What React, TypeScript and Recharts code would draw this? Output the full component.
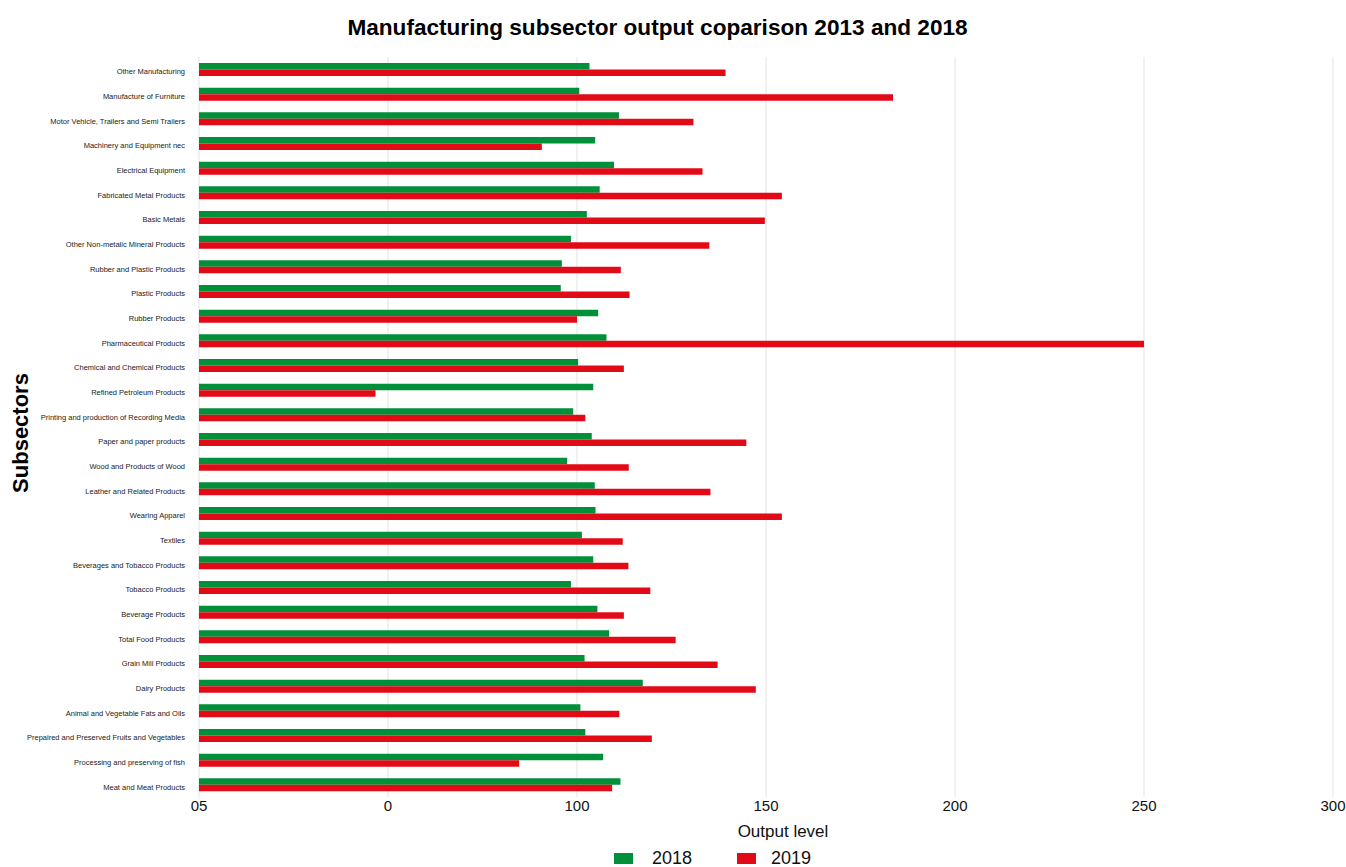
import { BarChart, Bar, XAxis, YAxis, CartesianGrid, Label } from 'recharts';

// Subsectors, listed top to bottom as they appear on the chart
const SUBSECTORS = [
    'Other Manufacturing',
    'Manufacture of Furniture',
    'Motor Vehicle, Trailers and Semi Trailers',
    'Machinery and Equipment nec',
    'Electrical Equipment',
    'Fabricated Metal Products',
    'Basic Metals',
    'Other Non-metalic Mineral Products',
    'Rubber and Plastic Products',
    'Plastic Products',
    'Rubber Products',
    'Pharmaceutical Products',
    'Chemical and Chemical Products',
    'Refined Petroleum Products',
    'Printing and production of Recording Media',
    'Paper and paper products',
    'Wood and Products of Wood',
    'Leather and Related Products',
    'Wearing Apparel',
    'Textiles',
    'Beverages and Tobacco Products',
    'Tobacco Products',
    'Beverage Products',
    'Total Food Products',
    'Grain Mill Products',
    'Dairy Products',
    'Animal and Vegetable Fats and Oils',
    'Prepaired and Preserved Fruits and Vegetables',
    'Processing and preserving of fish',
    'Meat and Meat Products',
];

const OUTPUT_2018 = [
    103.3, 100.6, 111.1, 104.8, 109.8, 106.0, 102.6, 98.4, 96.0, 95.7,
    105.6, 107.8, 100.3, 104.3, 99.0, 103.9, 97.4, 104.7, 104.9, 101.3,
    104.3, 98.4, 105.4, 108.5, 102.0, 117.4, 100.9, 102.2, 106.9, 111.5,
];

const OUTPUT_2019 = [
    139.3, 183.6, 130.8, 90.7, 133.2, 154.2, 149.7, 135.0, 111.6, 113.9,
    100.0, 250.0, 112.4, 46.7, 102.2, 144.8, 113.7, 135.3, 154.2, 112.1,
    113.6, 119.4, 112.4, 126.1, 137.2, 147.3, 111.2, 119.8, 84.7, 109.3,
];

// Tick values and the (odd) labels printed under them
const X_TICKS = [0, 50, 100, 150, 200, 250, 300];
const X_TICK_LABELS = ['05', '0', '100', '150', '200', '250', '300'];

const GREEN = '#00903A';
const RED = '#E30A17';

const chartData = SUBSECTORS.map((name, i) => ({
    name,
    y2018: OUTPUT_2018[i],
    y2019: OUTPUT_2019[i],
}));

// single-line category label (the default tick wraps long names)
const CategoryTick = ({ x, y, payload }: any) => (
    <text
        x={x}
        y={y}
        dy={2.5}
        textAnchor="end"
        dominantBaseline="central"
        fontSize={7.5}
        fill="#222"
    >
        {payload.value}
    </text>
);

export default function App() {
    return (
        <div
            style={{
                position: 'absolute',
                left: 0,
                top: 0,
                width: 1346,
                height: 867,
                background: '#fff',
                fontFamily: '"Liberation Sans", Arial, sans-serif',
            }}
        >
            <div
                style={{
                    position: 'absolute',
                    left: 0,
                    top: 15,
                    width: 1315,
                    textAlign: 'center',
                    fontSize: 22.6,
                    lineHeight: '25px',
                    fontWeight: 'bold',
                    color: '#000',
                }}
            >
                Manufacturing subsector output coparison 2013 and 2018
            </div>

            <BarChart
                width={1346}
                height={867}
                data={chartData}
                layout="vertical"
                margin={{ top: 57, right: 13, bottom: 0, left: 0 }}
                barGap={0}
            >
                <CartesianGrid horizontal={false} stroke="#e3e3e3" />
                <XAxis
                    type="number"
                    domain={[0, 300]}
                    ticks={X_TICKS}
                    tickFormatter={(v: number) => X_TICK_LABELS[X_TICKS.indexOf(v)] ?? String(v)}
                    axisLine={false}
                    tickLine={false}
                    tickSize={0}
                    tickMargin={3}
                    height={70}
                    tick={{ fontSize: 15, fill: '#111' }}
                >
                    <Label
                        value="Output level"
                        position="insideBottom"
                        offset={30}
                        dx={17}
                        style={{ fontSize: 17, fill: '#111' }}
                    />
                </XAxis>
                <YAxis
                    type="category"
                    dataKey="name"
                    width={199}
                    axisLine={false}
                    tickLine={false}
                    tickSize={0}
                    tickMargin={14}
                    interval={0}
                    tick={<CategoryTick />}
                >
                    <Label
                        content={({ viewBox }: any) => {
                            const cx = viewBox.x + 28;
                            const cy = viewBox.y + viewBox.height / 2 + 6;
                            return (
                                <text
                                    x={cx}
                                    y={cy}
                                    transform={`rotate(-90 ${cx} ${cy})`}
                                    textAnchor="middle"
                                    fontSize={22}
                                    fontWeight="bold"
                                    fill="#000"
                                >
                                    Subsectors
                                </text>
                            );
                        }}
                    />
                </YAxis>
                <Bar dataKey="y2018" name="2018" fill={GREEN} barSize={6.5} isAnimationActive={false} />
                <Bar dataKey="y2019" name="2019" fill={RED} barSize={6.5} isAnimationActive={false} />
            </BarChart>

            {/* legend */}
            <div
                style={{
                    position: 'absolute',
                    left: 614,
                    top: 848,
                    display: 'flex',
                    alignItems: 'center',
                    fontSize: 18,
                    lineHeight: '20px',
                    color: '#111',
                }}
            >
                <span style={{ width: 19, height: 11, background: GREEN, display: 'inline-block' }} />
                <span style={{ marginLeft: 19, width: 85 }}>2018</span>
                <span style={{ width: 19, height: 11, background: RED, display: 'inline-block' }} />
                <span style={{ marginLeft: 15 }}>2019</span>
            </div>
        </div>
    );
}
